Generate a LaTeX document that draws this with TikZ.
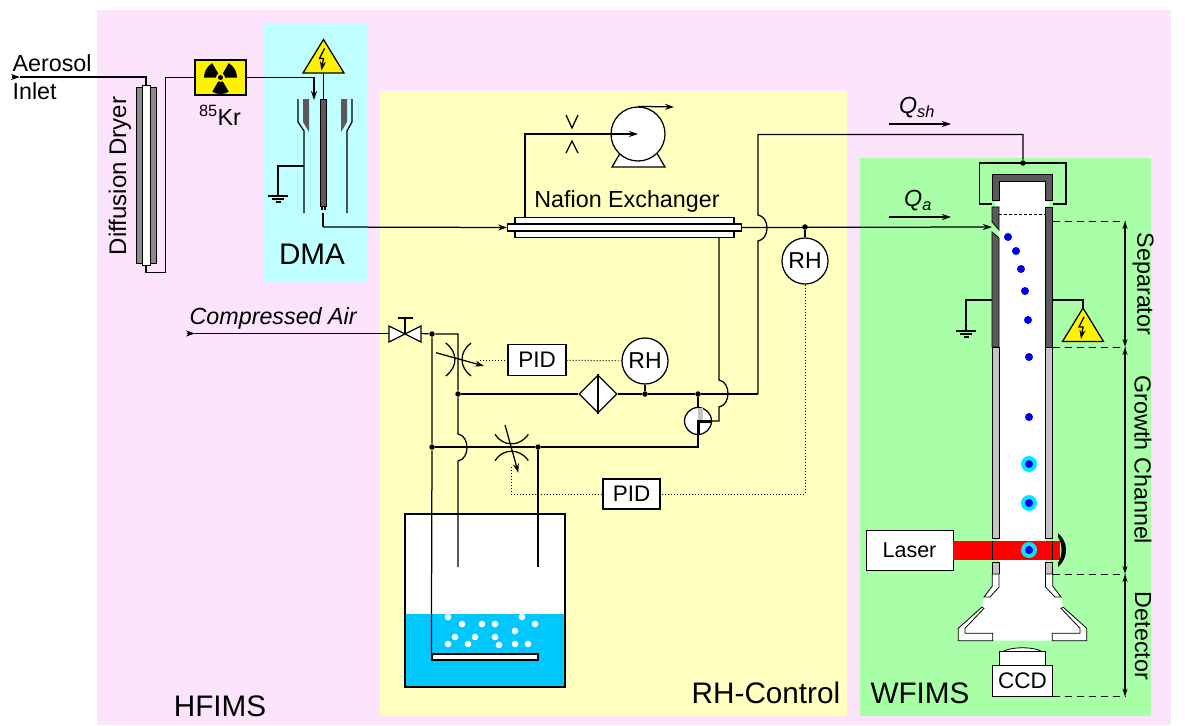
\documentclass[tikz,border=0pt]{standalone}
\usepackage{fontspec}
\setmainfont{Liberation Sans}
\usepackage{tikz}
\usetikzlibrary{arrows.meta}
\usetikzlibrary{shapes.geometric}

\definecolor{hfimsbg}{HTML}{FCE5FC}
\definecolor{dmabg}{HTML}{C0FFFF}
\definecolor{rhbg}{HTML}{FFFFC0}
\definecolor{wfimsbg}{HTML}{A8FFA8}
\definecolor{water}{HTML}{00C8FF}
\definecolor{wallcol}{HTML}{5A5A5A}
\definecolor{growcol}{HTML}{C4C4C4}
\definecolor{halo}{HTML}{00E8FF}
\definecolor{drop}{HTML}{0000F0}

\tikzset{
	hvsign/.pic={
		\draw[fill=yellow] (0,0) -- (20.5,33.5) -- (-20.5,33.5) -- cycle;
		\draw[->,line width=1.2pt] (1,9) -- (-4,19) -- (0,19) -- (-2,31);
	},
	earth/.pic={
		\draw (-10,0) -- (10,0);
		\draw (-6,3) -- (6,3);
		\draw (-2.5,6) -- (2.5,6);
	}
}

\begin{document}
\begin{tikzpicture}
		[x=1pt, y=-1pt, line width=1.25pt, >={Stealth[length=9pt,width=6pt]},
		label/.style={font=\fontsize{23.3}{26}\selectfont, inner sep=0},
		biglabel/.style={font=\fontsize{29.7}{33}\selectfont, inner sep=0},
		box/.style={rectangle, draw, fill=white, inner sep=0, font=\fontsize{22.5}{25}\selectfont},
		sensor/.style={circle, draw, fill=white, inner sep=0, minimum size=46, font=\fontsize{23}{25}\selectfont},
		junction/.style={circle, fill=black, inner sep=0, minimum size=5.5},
		signal/.style={dotted, line width=1pt},
		extent/.style={dashed, dash pattern=on 7pt off 5pt, line width=.9pt},
		span/.style={<->, >={Stealth[length=8pt,width=5pt]}},
		wall/.style={draw, line width=.8pt}]
		\useasboundingbox (0,0) rectangle (1185,725);
		% regions
		\fill[hfimsbg] (97,10) rectangle (1171,725);
		\fill[dmabg] (263,24) rectangle (367,282);
		\fill[rhbg] (380,91) rectangle (847,716);
		\fill[wfimsbg] (860,158) rectangle (1151,716);
		\node[biglabel] (hfimslabel) at (220,706) {HFIMS};
		\node[biglabel] (dmalabel) at (312,254) {DMA};
		\node[biglabel] (rhlabel) at (766,693) {RH-Control};
		\node[biglabel] (wfimslabel) at (920,693) {WFIMS};

		% inlet and dryer
		\node[label, anchor=west] (aerosol) at (12,63) {Aerosol};
		\node[label, anchor=west] (inletlabel) at (12,91) {Inlet};
		\node[label, font=\fontsize{24}{26}\selectfont, rotate=90] (dryerlabel) at (120,176) {Diffusion Dryer};
		\node[wall, fill=wallcol!70, inner sep=0, minimum width=20, minimum height=176] (dryer) at (146,175) {};
		\node[wall, fill=white, inner sep=0, minimum width=8, minimum height=180] (dryertube) at (146,175) {};
		\coordinate (inlet) at (12,77);
		\coordinate (inletb) at (20,77);
		\coordinate (dryerb) at (165.5,272.5);
		\node[draw, fill=yellow, inner sep=0, minimum width=51, minimum height=35] (krbox) at (220.5,77.5) {};
		\begin{scope}[shift={(krbox.center)}]
			\foreach \a in {90,210,330}
				\fill (\a-30:4.5) -- (\a-30:16.5) arc (\a-30:\a+30:16.5) -- (\a+30:4.5) arc (\a+30:\a-30:4.5) -- cycle;
			\fill (0,0) circle (2.5);
		\end{scope}
		\node[label] (krlabel) at (220,115) {\textsuperscript{85}Kr};
		\draw[->] (inlet) -- (inletb);
		\draw (inletb) -| (dryertube.north);
		\draw (dryertube.south) |- (dryerb) |- (krbox.west);

		% DMA
		\coordinate (dmain) at (314,100);
		\coordinate (dmaout) at (323,213);
		\coordinate (dmaoutb) at (323,227);
		\coordinate (dmagnd) at (278,196);
		\node[wall, fill=wallcol, inner sep=0, minimum width=5.5, minimum height=107] (electrode) at (323.5,152.5) {};
		\fill[wallcol] (303,99) -- (309,99) -- (309,132) -- (303,122) -- cycle;
		\fill[wallcol] (341,99) -- (347,99) -- (347,122) -- (341,132) -- cycle;
		\draw (298,99) -- (298,122) -- (304,131) -- (304,213);
		\draw (352,99) -- (352,122) -- (347,131) -- (347,213);
		\draw (304,166) -| (dmagnd);
		\pic at (dmagnd) {earth};
		\pic (dmahv) at (323.5,39.5) {hvsign};
		\draw (323.5,73) -- (electrode.north);
		\draw[->] (krbox.east) -| (dmain);
		\draw (322,207) -- (322,210) (325,207) -- (325,210);
		\draw (dmaout) -- (dmaoutb);

		% exchanger and pump
		\node[draw, fill=white, inner sep=0, minimum width=219, minimum height=20] (nafshell) at (624.5,227.5) {};
		\node[draw, fill=white, inner sep=0, minimum width=233.5, minimum height=7] (naftube) at (624.5,227.5) {};
		\node[label] (naflabel) at (627,201) {Nafion Exchanger};
		\coordinate (nafport) at (525,217.5);
		\coordinate (nafportb) at (719,237.5);
		\draw[->] (dmaoutb) -- (naftube.west);
		\draw[fill=white] (612,167) -- (665,167) -- (655,150) -- (622,150) -- cycle;
		\node[circle, draw, fill=white, inner sep=0, minimum size=54] (pump) at (638,134) {};
		\coordinate (pumpout) at (674,107);
		\draw[->] (nafport) |- (pump.center);
		\draw[->] (pump.north) -- (pumpout);
		\draw (566,115) -- (572,128) -- (578,115);
		\draw (566,153) -- (572,141) -- (578,153);

		% column
		\fill[white] (999,181) rectangle (1045.5,590);
		\fill[white] (995,202) rectangle (1049,206);
		\draw[wall, fill=wallcol] (992,200) -- (992,174) -- (1052.7,174) -- (1052.7,200) -- (1045.5,200) -- (1045.5,181) -- (999,181) -- (999,200) -- cycle;
		\draw[wall, fill=wallcol] (992,207) -- (999,207) -- (999,230) -- (992,222) -- cycle;
		\draw[wall, fill=wallcol] (992,232) -- (999,238) -- (999,347) -- (992,347) -- cycle;
		\draw[wall, fill=wallcol] (1045.5,207) rectangle (1052.7,347);
		\draw[wall, fill=growcol] (992,347) rectangle (999,538);
		\draw[wall, fill=growcol] (1045.5,347) rectangle (1052.7,538);
		\draw[wall, fill=growcol] (992,562) rectangle (999,574);
		\draw[wall, fill=growcol] (1045.5,562) rectangle (1052.7,574);
		\draw[dashed, dash pattern=on 3pt off 2pt, line width=.8pt] (999,214) -- (1045.5,214);
		\coordinate (mantop) at (1023,163);
		\draw (992,204) -- (979.5,204) |- (mantop) -| (1066,204) -- (1052.7,204);
		\node[junction] (mandot) at (mantop) {};

		% detector
		\fill[white] (999,574) -- (999,587) -- (984,597) -- (982,608) -- (965,628) -- (965,633) -- (992.7,633) -- (992.7,640.7) -- (1052.3,640.7) -- (1052.3,633) -- (1080,633) -- (1080,628) -- (1063,608) -- (1061,597) -- (1045.5,587) -- (1045.5,574) -- cycle;
		\draw[wall, fill=white] (992.3,574) -- (999,574) -- (999,587) -- (990,597) -- (984,597) -- (992.3,586) -- cycle;
		\draw[wall, fill=white] (1052.7,574) -- (1045.5,574) -- (1045.5,587) -- (1055,597) -- (1061,597) -- (1052.7,586) -- cycle;
		\draw[wall, fill=white] (981.7,607.3) -- (958.3,628.3) -- (958.3,640.7) -- (992.7,640.7) -- (992.7,633.3) -- (965,633.3) -- (965,628.3) -- (984,608.3) -- cycle;
		\draw[wall, fill=white] (1063.3,607.3) -- (1086.7,628.3) -- (1086.7,640.7) -- (1052.3,640.7) -- (1052.3,633.3) -- (1080,633.3) -- (1080,628.3) -- (1061,608.3) -- cycle;
		\draw[wall, fill=white] (1003,651.7) .. controls (1010,646.5) and (1035,646.5) .. (1042,651.7) -- cycle;
		\draw[wall, fill=white] (999,665) rectangle (1045.7,651.7);
		\node[box, wall, minimum width=60.4, minimum height=31.7] (ccd) at (1022.5,680.8) {CCD};

		% laser beam
		\node[box, wall, font=\fontsize{21.5}{24}\selectfont, minimum width=87, minimum height=40] (laser) at (909.5,550) {Laser};
		\fill[red] (laser.east |- 0,541) rectangle (1060,560);
		\draw[line width=.8pt] (992,541) -- (992,560) (1052.7,541) -- (1052.7,560);
		\fill (1058,533) .. controls (1068.7,542) and (1068.7,558) .. (1058,567) -- (1058,563) .. controls (1062.7,556) and (1062.7,544) .. (1058,537) -- cycle;

		% droplets
		\foreach \px/\py in {1008/237, 1016/251, 1021/269, 1025/291, 1028/320, 1029/357, 1029/417}
			\fill[drop] (\px,\py) circle (4);
		\foreach \py in {464, 503, 550} {
			\fill[halo] (1029,\py) circle (8);
			\fill[drop] (1029,\py) circle (4);
		}

		% column labels and extents
		\coordinate (sepA) at (1125,221);
		\coordinate (sepB) at (1125,347);
		\coordinate (detA) at (1125,574);
		\coordinate (detB) at (1125,696.7);
		\draw[extent] (1052.7,221) -- (sepA);
		\draw[extent] (1052.7,347) -- (sepB);
		\draw[extent] (1052.7,574) -- (detA);
		\draw[extent] (1052.7,696.7) -- (detB);
		\draw[span] (sepA) -- (sepB);
		\draw[span] (sepB) -- (detA);
		\draw[span] (detA) -- (detB);
		\node[label, rotate=-90] (seplabel) at (1143,284) {Separator};
		\node[label, rotate=-90] (growlabel) at (1143,460) {Growth Channel};
		\node[label, rotate=-90] (detlabel) at (1143,636) {Detector};
		\draw (992,300) -| (966,331);
		\pic at (966,331) {earth};
		\draw (1052.7,300) -| (1083,308);
		\pic (sephv) at (1083,308) {hvsign};

		% sheath and aerosol flow
		\coordinate (qaA) at (889,217);
		\coordinate (qaB) at (951,217);
		\coordinate (qshA) at (889,124);
		\coordinate (qshB) at (951,124);
		\draw[->] (qaA) -- (qaB);
		\draw[->] (qshA) -- (qshB);
		\node[label] (qalabel) at (918,201) {\itshape Q\textsubscript{a}};
		\node[label] (qshlabel) at (917,108) {\itshape Q\textsubscript{sh}};
		\coordinate (colin) at (992,227);
		\draw[->] (naftube.east) -- (colin);
		\coordinate (sheath) at (758,394);
		\draw (sheath) -- (758,241) .. controls (770,239) and (770,217) .. (758,215) -- (758,134.5) -| (mandot);
		\node[junction] (rhdot) at (805,227) {};
		\node[sensor] (rhcol) at (805,261) {RH};
		\draw (rhdot) -- (rhcol);

		% compressed air
		\node[label, anchor=west] (airlabel) at (189,318) {\itshape Compressed Air};
		\coordinate (air) at (187,333.5);
		\coordinate (airb) at (195,333.5);
		\coordinate (valvel) at (389,333.5);
		\coordinate (valver) at (421,333.5);
		\draw[->] (air) -- (airb);
		\draw (airb) -- (valvel);
		\draw[fill=white] (389,326) -- (421,342) -- (421,326) -- (389,342) -- cycle;
		\draw (405,333.5) -- (405,318) (398,318) -- (413,318);

		% saturator
		\fill[white] (405,514) rectangle (565,614);
		\fill[water] (405,614) rectangle (565,687);
		\foreach \px/\py in {448/617, 462/624, 482/624, 495/624, 522/617, 535/624, 515/631, 455/637, 475/637, 495/637, 448/644, 468/644, 499/645, 515/644, 528/644}
			\fill[white] (\px,\py) circle (3.3);
		\draw[line width=2.6pt] (405,514) rectangle (565,687);
		\node[draw, fill=white, inner sep=0, minimum width=106, minimum height=6] (plate) at (485,657) {};

		% humid and dry lines
		\node[junction] (jair) at (432,334) {};
		\node[junction] (jfilt) at (458,394) {};
		\node[junction] (jlow) at (432,447) {};
		\node[junction] (jsat) at (538,447) {};
		\node[junction] (jrh) at (645,394) {};
		\node[junction] (jtee) at (698,394) {};
		\coordinate (dipl) at (458,567);
		\coordinate (dipr) at (538,567);
		\coordinate (tlow) at (698,447);
		\node[diamond, draw, fill=white, aspect=1, inner sep=0, minimum size=38] (filter) at (598,394) {};
		\node[sensor] (rhloop) at (645,361) {RH};
		\node[circle, draw, fill=white, inner sep=0, minimum size=27] (tvalve) at (698,421) {};
		\draw (valver) -- (jair) -- (458,334) -- (jfilt);
		\draw (jair) -- (jlow) -- (plate.north west);
		\draw (jfilt) -- (458,434) .. controls (470,436) and (470,459) .. (458,461) -- (dipl);
		\draw (jlow) -- (jsat) -- (tlow) -- (tvalve.south);
		\draw (jsat) -- (dipr);
		\draw (jfilt) -- (filter.west);
		\draw (filter.north) -- (filter.south);
		\draw (filter.east) -- (jrh) -- (jtee) -- (sheath);
		\draw (jrh) -- (rhloop);
		\draw (jtee) -- (tvalve.north);
		\draw (nafportb) -- (719,380) .. controls (731,382) and (731,405) .. (719,407) |- (tvalve.east);
		\fill[growcol] (698,408) rectangle (703,421);
		\draw[line width=3pt] (tvalve.east) -- (tvalve.center) -- (tvalve.south);

		% control valves
		\draw (445.7,343) .. controls (458,352) and (458,367) .. (445.7,376);
		\draw (471,343) .. controls (459,352) and (459,367) .. (471,376);
		\coordinate (ctrlA) at (436,352.7);
		\coordinate (ctrlB) at (484,366);
		\draw[->] (ctrlA) -- (ctrlB);
		\draw (495,434.3) .. controls (503,447) and (520,447) .. (528.3,434.3);
		\draw (495,460.7) .. controls (503,448) and (520,448) .. (528.3,460.7);
		\coordinate (ctrlC) at (505,425);
		\coordinate (ctrlD) at (518.3,472.7);
		\draw[->] (ctrlC) -- (ctrlD);
		\node[box, minimum width=58, minimum height=31] (pidloop) at (537,360) {PID};
		\node[box, minimum width=57, minimum height=30] (pidcol) at (631.5,494) {PID};
		\coordinate (ctrlE) at (480,360);
		\coordinate (ctrlF) at (511,467);
		\draw[signal] (ctrlE) -- (pidloop);
		\draw[signal] (pidloop) -- (rhloop);
		\draw[signal] (rhcol) |- (pidcol);
		\draw[signal] (pidcol) -| (ctrlF);
	\end{tikzpicture}
\end{document}
